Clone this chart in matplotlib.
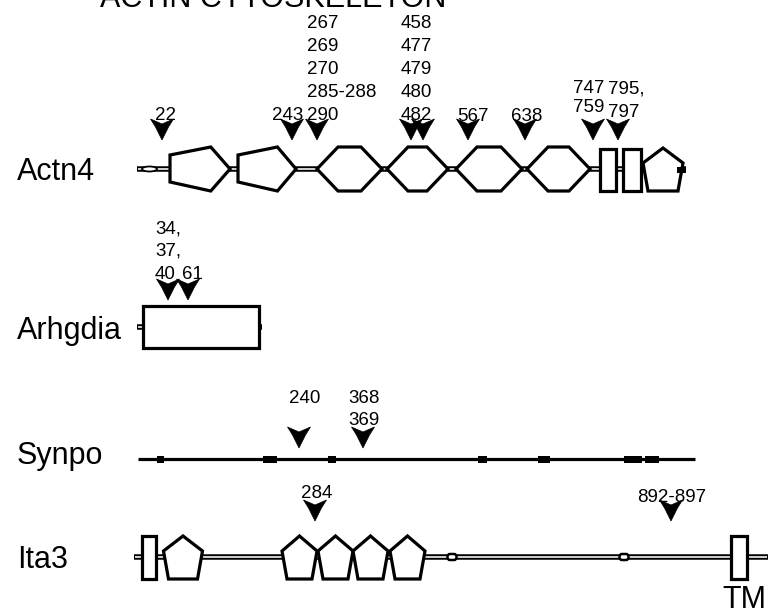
import matplotlib
matplotlib.use("Agg")
import matplotlib.pyplot as plt
from matplotlib.patches import Polygon, Rectangle, Ellipse, FancyBboxPatch

plt.rcParams['font.family'] = ['Liberation Sans', 'DejaVu Sans']

# ---------------- data (diagram units along each protein) ----------------
title = "ACTIN CYTOSKELETON"
proteins = ["Actn4", "Arhgdia", "Synpo", "Ita3"]

actn4_extent = (137, 686)
actn4_nterm = [(142, 157)]
actn4_ch = [(170, 230), (238, 296)]
actn4_spectrin = [(317, 382), (387, 448), (456, 522), (527, 590)]
actn4_ef = [(600, 616), (623, 641)]
actn4_cterm = [663]
actn4_sites = [162, 292, 317, 411, 423, 468, 525, 593, 618]
actn4_site_labels = ["22", "243", "267\n269\n270\n285-288\n290",
                     "458\n477\n479\n480\n482", "567", "638",
                     "747\n759", "795,\n797"]

arhgdia_extent = (137, 262)
arhgdia_domain = [(143, 259)]
arhgdia_sites = [168, 188]
arhgdia_site_labels = ["34,\n37,\n40", "61"]

synpo_extent = (138, 695)
synpo_motifs = [(157, 164), (263, 277), (328, 336), (478, 487),
                (538, 550), (624, 642), (645, 659)]
synpo_sites = [299, 363]
synpo_site_labels = ["240", "368\n369"]

ita3_extent = (134, 768)
ita3_tm = [(142, 156), (731, 747)]
ita3_blades = [183, 299.5, 335.5, 370.5, 407.5]
ita3_blade_w = [39, 35, 35, 35, 35]
ita3_small = [452, 624]
ita3_sites = [315, 671]
ita3_site_labels = ["284", "892-897"]

# ---------------- layout ----------------
row_y = {"Actn4": 169, "Arhgdia": 327, "Synpo": 459, "Ita3": 557}
row_label_base = {"Actn4": 180, "Arhgdia": 339, "Synpo": 464, "Ita3": 568}
site_tip = {"Actn4": 140, "Arhgdia": 300, "Synpo": 448, "Ita3": 521}

# (x, ha, baseline of bottom line, line spacing)
actn4_lab_pos = [(166, 'center', 120, 23), (287.5, 'center', 120, 23),
                 (307, 'left', 120, 23), (401, 'left', 120, 23),
                 (473, 'center', 121, 23), (527, 'center', 121, 23),
                 (573, 'left', 112, 19), (608, 'left', 117, 24)]
arhgdia_lab_pos = [(155, 'left', 279, 23), (182, 'left', 279, 23)]
synpo_lab_pos = [(305, 'center', 403, 22), (348, 'left', 425, 22)]
ita3_lab_pos = [(317, 'center', 498, 22), (672, 'center', 502, 22)]

PX = 0.72  # points per pixel at 100 dpi
NUM_FS = 13.5
LAB_FS = 22

fig = plt.figure(figsize=(7.69, 6.09), dpi=100)
ax = fig.add_axes([0, 0, 1, 1])
ax.set_xlim(0, 769)
ax.set_ylim(609, 0)
ax.axis('off')

EDGE = 3.2 * PX


def double_line(x0, x1, y):
    ax.plot([x0, x1], [y, y], color='black', lw=5.5 * PX,
            solid_capstyle='butt', zorder=1)
    ax.plot([x0 + 1, x1 - 1], [y, y], color='white', lw=1.6 * PX,
            solid_capstyle='butt', zorder=1.1)


def poly(pts, z=2):
    ax.add_patch(Polygon(pts, closed=True, facecolor='white',
                         edgecolor='black', lw=EDGE, joinstyle='miter',
                         zorder=z))


def ch(x0, x1, y):
    xm = x0 + 0.68 * (x1 - x0)
    poly([(x0, y - 14), (xm, y - 22), (x1, y), (xm, y + 22), (x0, y + 13)])


def hexa(x0, x1, y):
    d = 21
    poly([(x0, y), (x0 + d, y - 22), (x1 - d, y - 22), (x1, y),
          (x1 - d, y + 22), (x0 + d, y + 22)])


def house(cx, w, y):
    poly([(cx, y - 21), (cx + w / 2, y - 6), (cx + w / 2 - 5, y + 22),
          (cx - w / 2 + 5, y + 22), (cx - w / 2, y - 6)])


def box(x0, x1, y, up=21, down=22):
    ax.add_patch(Rectangle((x0, y - up), x1 - x0, up + down,
                           facecolor='white', edgecolor='black', lw=EDGE,
                           zorder=2))


def arrow(x, tip):
    top = tip - 21
    pts = [(x - 11.5, top), (x, top + 5), (x + 11.5, top), (x + 6.5, top + 8),
           (x, tip), (x - 6.5, top + 8)]
    ax.add_patch(Polygon(pts, closed=True, facecolor='black',
                         edgecolor='black', lw=0.5, zorder=4))


def labels(texts, pos):
    for t, (x, ha, base, sp) in zip(texts, pos):
        lines = t.split("\n")
        n = len(lines)
        for i, ln in enumerate(lines):
            ax.text(x, base - (n - 1 - i) * sp, ln, ha=ha, va='baseline',
                    fontsize=NUM_FS, color='black', zorder=5)


# title (cut off at top, as in the source figure)
ax.text(273.5, 7, title, ha='center', va='baseline', fontsize=LAB_FS)

# row labels
for p in proteins:
    ax.text(17, row_label_base[p], p, ha='left', va='baseline',
            fontsize=LAB_FS)

# ---- Actn4 ----
y = row_y["Actn4"]
double_line(*actn4_extent, y)
for x0, x1 in actn4_nterm:
    ax.add_patch(Ellipse(((x0 + x1) / 2, y), x1 - x0, 5, facecolor='white',
                         edgecolor='black', lw=1.8 * PX, zorder=2))
for x0, x1 in actn4_ch:
    ch(x0, x1, y)
for x0, x1 in actn4_spectrin:
    hexa(x0, x1, y)
for x0, x1 in actn4_ef:
    box(x0, x1, y, 20, 22)
for cx in actn4_cterm:
    house(cx, 40, y)
    ax.add_patch(Rectangle((cx + 14, y - 2), 9, 6, facecolor='black',
                           edgecolor='black', lw=0, zorder=3))
for x in actn4_sites:
    arrow(x, site_tip["Actn4"])
labels(actn4_site_labels, actn4_lab_pos)

# ---- Arhgdia ----
y = row_y["Arhgdia"]
double_line(*arhgdia_extent, y)
for x0, x1 in arhgdia_domain:
    box(x0, x1, y, 21, 21)
for x in arhgdia_sites:
    arrow(x, site_tip["Arhgdia"])
labels(arhgdia_site_labels, arhgdia_lab_pos)

# ---- Synpo ----
y = row_y["Synpo"]
ax.plot(list(synpo_extent), [y, y], color='black', lw=3.2 * PX,
        solid_capstyle='butt', zorder=1)
for x0, x1 in synpo_motifs:
    ax.add_patch(Rectangle((x0, y - 3.5), x1 - x0, 7, facecolor='black',
                           edgecolor='black', lw=0, zorder=2))
for x in synpo_sites:
    arrow(x, site_tip["Synpo"])
labels(synpo_site_labels, synpo_lab_pos)

# ---- Ita3 ----
y = row_y["Ita3"]
double_line(*ita3_extent, y)
for x0, x1 in ita3_tm:
    box(x0, x1, y, 21, 22)
for cx, w in zip(ita3_blades, ita3_blade_w):
    house(cx, w, y)
for cx in ita3_small:
    ax.add_patch(FancyBboxPatch((cx - 4, y - 2.5), 8, 5,
                                boxstyle="round,pad=0.5,rounding_size=2.5",
                                facecolor='white', edgecolor='black',
                                lw=2.5 * PX, zorder=2))
for x in ita3_sites:
    arrow(x, site_tip["Ita3"])
labels(ita3_site_labels, ita3_lab_pos)
ax.text(722, 608, "TM", ha='left', va='baseline', fontsize=LAB_FS)

fig.savefig("out.png", dpi=100)
